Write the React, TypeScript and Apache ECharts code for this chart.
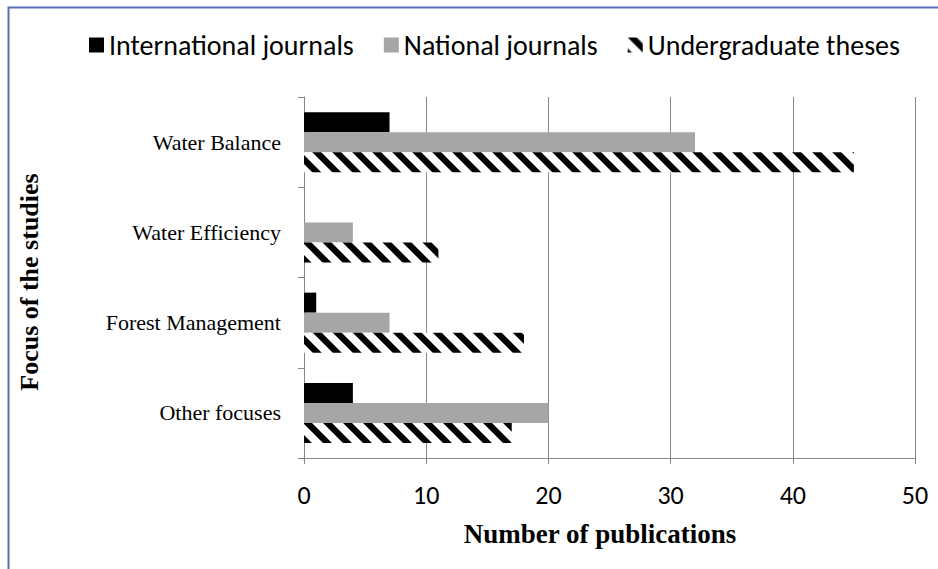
import React, { useEffect, useRef } from "react";
import * as echarts from "echarts";

const categories = ["Water Balance", "Water Efficiency", "Forest Management", "Other focuses"];
const seriesNames = ["International journals", "National journals", "Undergraduate theses"];
const international = [7, 0, 1, 4];
const national = [32, 4, 7, 20];
const undergrad = [45, 11, 18, 17];
const xMin = 0;
const xMax = 50;
const xStep = 10;

function makeHatch(): HTMLCanvasElement {
  const c = document.createElement("canvas");
  const s = 20;
  c.width = s;
  c.height = s;
  const ctx = c.getContext("2d")!;
  ctx.fillStyle = "#ffffff";
  ctx.fillRect(0, 0, s, s);
  ctx.fillStyle = "#000000";
  const w = 9;
  for (const o of [-s, 0, s]) {
    ctx.beginPath();
    ctx.moveTo(o, 0);
    ctx.lineTo(o + w, 0);
    ctx.lineTo(o + w + s, s);
    ctx.lineTo(o + s, s);
    ctx.closePath();
    ctx.fill();
  }
  return c;
}

export default function App() {
  const ref = useRef<HTMLDivElement>(null);
  useEffect(() => {
    if (!ref.current) return;
    const chart = echarts.init(ref.current, undefined, { renderer: "svg" });
    const hatch = { image: makeHatch(), repeat: "repeat" } as any;
    const sans = "Carlito, Calibri, Lato, 'Noto Sans', sans-serif";
    const serif = "'Liberation Serif', 'Times New Roman', serif";
    chart.setOption({
      animation: false,
      backgroundColor: "#ffffff",
      legend: {
        left: 84,
        top: 26,
        icon: "rect",
        itemWidth: 15,
        itemHeight: 15,
        itemGap: 30,
        textStyle: { fontFamily: sans, fontSize: 28, color: "#000" },
        data: seriesNames,
      },
      grid: { left: 304, right: 23, top: 97, bottom: 111, containLabel: false },
      xAxis: {
        type: "value",
        min: xMin,
        max: xMax,
        interval: xStep,
        axisLine: { show: true, lineStyle: { color: "#868686", width: 1 } },
        axisTick: { show: true, length: 6, lineStyle: { color: "#868686" } },
        splitLine: { show: true, lineStyle: { color: "#868686", width: 1 } },
        axisLabel: { fontFamily: sans, fontSize: 26, color: "#000", margin: 24 },
      },
      yAxis: {
        type: "category",
        inverse: true,
        data: categories,
        axisLine: { show: true, lineStyle: { color: "#868686", width: 1 } },
        axisTick: { show: true, length: 6, lineStyle: { color: "#868686" } },
        axisLabel: { fontFamily: serif, fontSize: 22, color: "#000", margin: 23 },
      },
      graphic: [
        {
          type: "rect",
          shape: { x: 8.5, y: 7.5, width: 2000, height: 2000 },
          style: { fill: "none", stroke: "#5b6db5", lineWidth: 2 },
          silent: true,
        },
        {
          type: "text",
          x: 29,
          y: 282,
          rotation: Math.PI / 2,
          style: {
            text: "Focus of the studies",
            fontFamily: serif,
            fontWeight: "bold",
            fontSize: 26,
            fill: "#000",
            align: "center",
            verticalAlign: "middle",
          },
        },
        {
          type: "text",
          x: 600,
          y: 534,
          style: {
            text: "Number of publications",
            fontFamily: serif,
            fontWeight: "bold",
            fontSize: 27,
            fill: "#000",
            align: "center",
            verticalAlign: "middle",
          },
        },
      ],
      series: [
        {
          name: seriesNames[0],
          type: "bar",
          data: international,
          barWidth: 20,
          barGap: "0%",
          itemStyle: { color: "#000000" },
        },
        {
          name: seriesNames[1],
          type: "bar",
          data: national,
          barWidth: 20,
          barGap: "0%",
          itemStyle: { color: "#a6a6a6" },
        },
        {
          name: seriesNames[2],
          type: "bar",
          data: undergrad,
          barWidth: 20,
          barGap: "0%",
          itemStyle: { color: hatch },
        },
      ],
    });
    return () => chart.dispose();
  }, []);
  return (
    <div
      ref={ref}
      style={{ position: "fixed", left: 0, top: 0, width: 938, height: 569, background: "#fff" }}
    />
  );
}
